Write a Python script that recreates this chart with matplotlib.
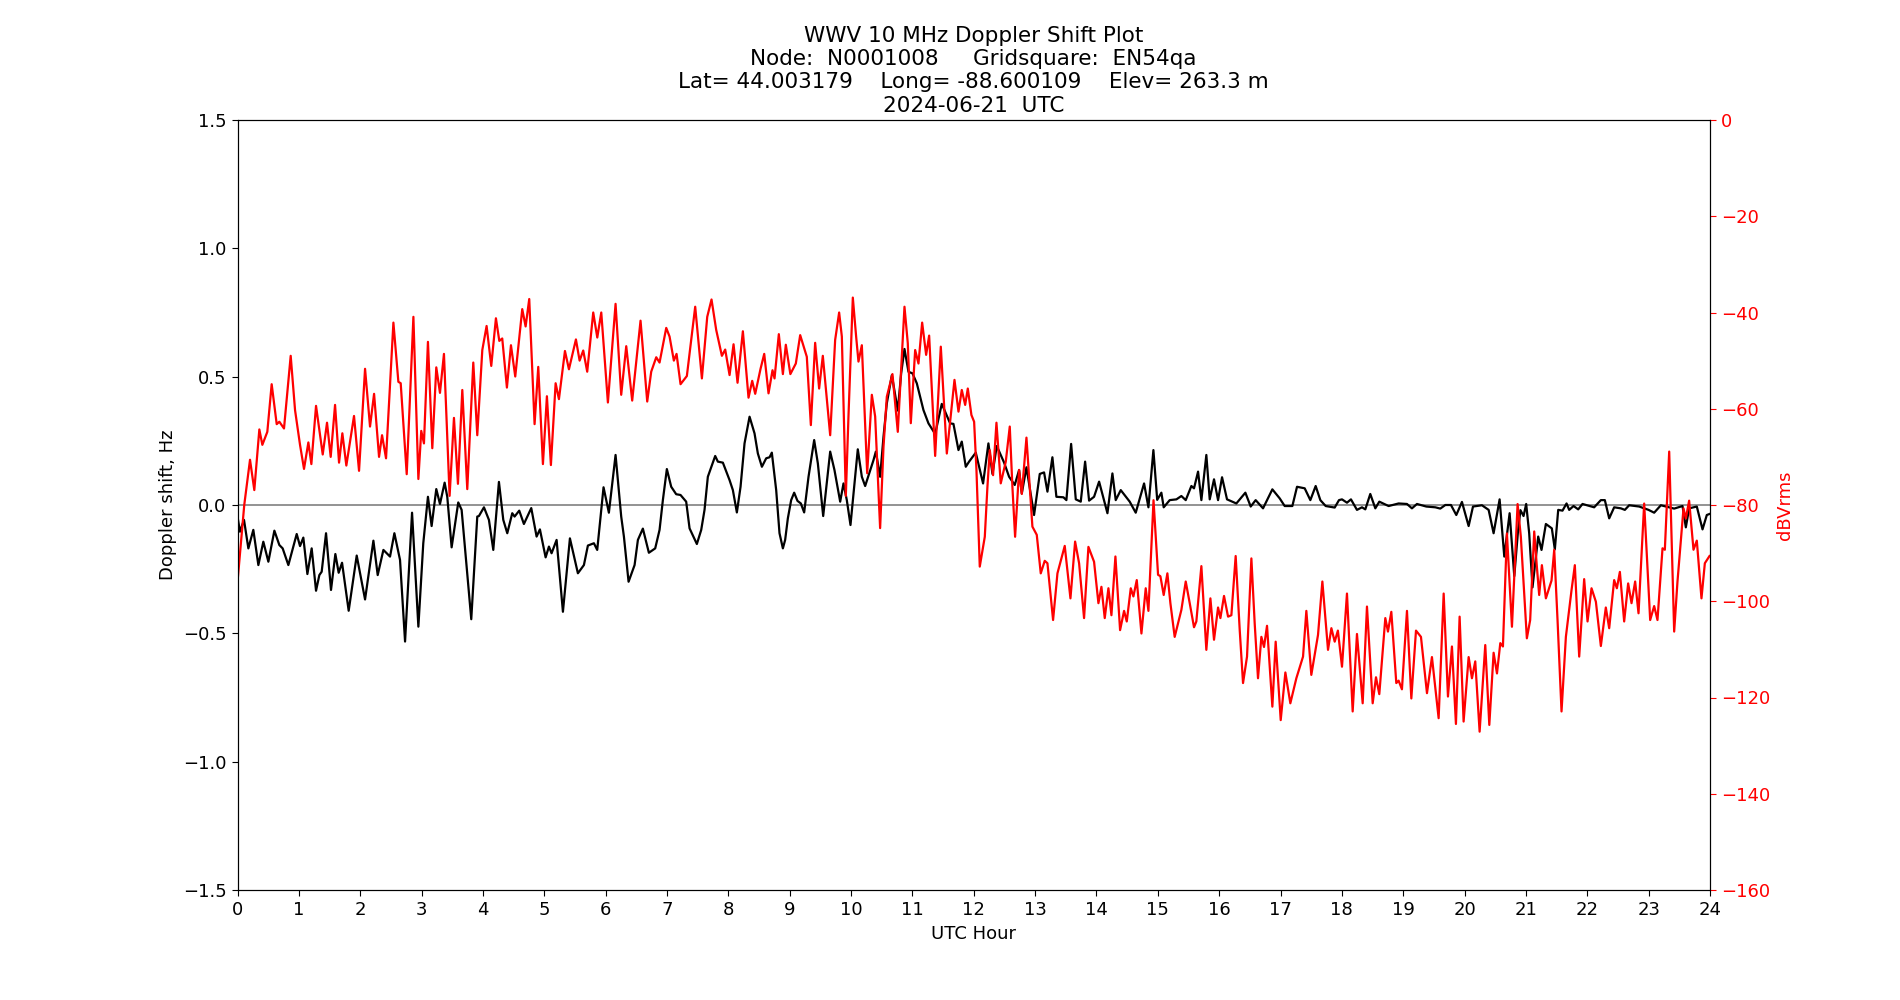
import matplotlib
matplotlib.use('Agg')
import matplotlib.pyplot as plt

# Doppler shift (black, left axis) - hour, Hz
dop_hour = [0.00, 0.04, 0.106, 0.177, 0.258, 0.34, 0.421, 0.503, 0.601, 0.682, 0.736, 0.829,
            0.965, 1.019, 1.073, 1.139, 1.209, 1.280, 1.334, 1.372, 1.443, 1.524, 1.595, 1.649,
            1.704, 1.812, 1.943, 2.079, 2.215, 2.285, 2.378, 2.486, 2.557, 2.649, 2.731, 2.845,
            2.948, 3.028, 3.104, 3.164, 3.240, 3.300, 3.376, 3.419, 3.490, 3.598, 3.653, 3.810,
            3.908, 3.935, 4.017, 4.098, 4.169, 4.261, 4.332, 4.397, 4.478, 4.516, 4.592, 4.668,
            4.788, 4.875, 4.929, 5.022, 5.076, 5.119, 5.201, 5.304, 5.418, 5.548, 5.646, 5.711,
            5.809, 5.863, 5.966, 6.053, 6.162, 6.254, 6.298, 6.374, 6.472, 6.526, 6.607, 6.705,
            6.808, 6.879, 6.933, 6.998, 7.069, 7.150, 7.221, 7.313, 7.368, 7.487, 7.558, 7.612,
            7.666, 7.786, 7.829, 7.911, 8.020, 8.074, 8.139, 8.199, 8.264, 8.346, 8.427, 8.481,
            8.547, 8.617, 8.672, 8.709, 8.780, 8.834, 8.889, 8.926, 8.970, 9.024, 9.073, 9.127,
            9.182, 9.236, 9.307, 9.399, 9.459, 9.546, 9.660, 9.730, 9.823, 9.877, 9.931, 9.991,
            10.110, 10.176, 10.230, 10.366, 10.404, 10.474, 10.529, 10.583, 10.665, 10.762, 10.817,
            10.871, 10.936, 11.001, 11.072, 11.126, 11.180, 11.262, 11.371, 11.479, 11.615, 11.669,
            11.751, 11.805, 11.870, 11.924, 12.033, 12.152, 12.239, 12.305, 12.375, 12.495, 12.576,
            12.668, 12.739, 12.783, 12.859, 12.983, 13.076, 13.146, 13.201, 13.282, 13.347, 13.462,
            13.510, 13.587, 13.663, 13.744, 13.815, 13.880, 13.961, 14.043, 14.179, 14.260, 14.314,
            14.396, 14.542, 14.640, 14.776, 14.847, 14.928, 14.990, 15.058, 15.096, 15.194, 15.303,
            15.384, 15.455, 15.547, 15.590, 15.656, 15.710, 15.791, 15.846, 15.916, 15.982, 16.047,
            16.128, 16.280, 16.427, 16.514, 16.595, 16.715, 16.867, 16.986, 17.068, 17.193, 17.269,
            17.394, 17.486, 17.573, 17.649, 17.736, 17.883, 17.953, 18.002, 18.083, 18.148, 18.246,
            18.328, 18.382, 18.463, 18.545, 18.610, 18.762, 18.925, 19.061, 19.142, 19.224, 19.376,
            19.523, 19.604, 19.686, 19.778, 19.865, 19.957, 20.066, 20.137, 20.283, 20.392, 20.473,
            20.571, 20.647, 20.734, 20.810, 20.870, 20.910, 20.961, 21.004, 21.053, 21.107, 21.200,
            21.254, 21.325, 21.422, 21.471, 21.526, 21.596, 21.662, 21.705, 21.776, 21.852, 21.922,
            22.112, 22.221, 22.286, 22.357, 22.438, 22.547, 22.612, 22.683, 22.846, 22.998, 23.090,
            23.199, 23.416, 23.552, 23.606, 23.660, 23.785, 23.878, 23.948, 23.992]
dop_hz = [-0.045, -0.104, -0.058, -0.169, -0.097, -0.234, -0.143, -0.221, -0.100, -0.156, -0.169, -0.234,
          -0.113, -0.160, -0.127, -0.269, -0.169, -0.334, -0.273, -0.260, -0.110, -0.331, -0.191, -0.264,
          -0.225, -0.412, -0.197, -0.368, -0.139, -0.273, -0.175, -0.201, -0.110, -0.214, -0.532, -0.030,
          -0.474, -0.149, 0.032, -0.082, 0.062, 0.004, 0.087, 0.032, -0.165, 0.010, -0.019, -0.445,
          -0.045, -0.043, -0.009, -0.058, -0.175, 0.090, -0.058, -0.110, -0.032, -0.045, -0.022, -0.074,
          -0.012, -0.123, -0.095, -0.204, -0.162, -0.188, -0.136, -0.416, -0.130, -0.266, -0.234, -0.158,
          -0.149, -0.175, 0.069, -0.030, 0.195, -0.045, -0.123, -0.299, -0.234, -0.136, -0.092, -0.186,
          -0.169, -0.097, 0.019, 0.140, 0.071, 0.042, 0.039, 0.013, -0.091, -0.152, -0.097, -0.019,
          0.110, 0.191, 0.169, 0.165, 0.097, 0.058, -0.029, 0.071, 0.240, 0.344, 0.279, 0.201,
          0.149, 0.182, 0.186, 0.204, 0.058, -0.110, -0.169, -0.136, -0.052, 0.019, 0.048, 0.016,
          0.006, -0.029, 0.110, 0.253, 0.162, -0.043, 0.208, 0.136, 0.013, 0.084, 0.019, -0.078,
          0.217, 0.110, 0.074, 0.175, 0.208, 0.110, 0.266, 0.396, 0.506, 0.368, 0.513,
          0.608, 0.519, 0.513, 0.474, 0.422, 0.370, 0.318, 0.277, 0.394, 0.318, 0.316,
          0.214, 0.247, 0.149, 0.169, 0.204, 0.084, 0.240, 0.121, 0.230, 0.165, 0.110,
          0.078, 0.136, 0.045, 0.147, -0.039, 0.121, 0.127, 0.052, 0.186, 0.032, 0.030,
          0.019, 0.238, 0.022, 0.013, 0.169, 0.017, 0.032, 0.091, -0.032, 0.123, 0.019,
          0.058, 0.013, -0.030, 0.084, -0.009, 0.214, 0.020, 0.048, -0.009, 0.019, 0.022,
          0.035, 0.019, 0.074, 0.065, 0.130, 0.019, 0.195, 0.022, 0.100, 0.019, 0.108,
          0.022, 0.006, 0.048, -0.006, 0.019, -0.013, 0.061, 0.026, -0.004, -0.004, 0.071,
          0.065, 0.019, 0.074, 0.019, -0.004, -0.010, 0.019, 0.022, 0.009, 0.022, -0.019,
          -0.009, -0.017, 0.043, -0.013, 0.013, -0.004, 0.006, 0.004, -0.013, 0.004, -0.006,
          -0.009, -0.014, 0.000, 0.000, -0.039, 0.012, -0.082, -0.006, -0.001, -0.019, -0.110,
          0.022, -0.201, -0.032, -0.277, -0.104, -0.020, -0.043, 0.004, -0.110, -0.321, -0.123,
          -0.175, -0.074, -0.091, -0.173, -0.019, -0.022, 0.006, -0.019, -0.004, -0.017, 0.004,
          -0.009, 0.019, 0.019, -0.052, -0.009, -0.013, -0.019, -0.001, -0.006, -0.019, -0.030,
          -0.001, -0.014, -0.004, -0.087, -0.013, -0.006, -0.095, -0.039, -0.035]

# signal level (red, right axis) - hour, dBVrms
pwr_hour = [0.000, 0.110, 0.204, 0.274, 0.356, 0.405, 0.486, 0.557, 0.639, 0.682, 0.758, 0.867,
            0.938, 1.019, 1.084, 1.155, 1.204, 1.280, 1.389, 1.459, 1.519, 1.590, 1.655, 1.709,
            1.774, 1.899, 1.981, 2.079, 2.160, 2.226, 2.307, 2.356, 2.421, 2.541, 2.622, 2.660,
            2.758, 2.867, 2.948, 2.995, 3.039, 3.104, 3.175, 3.240, 3.300, 3.365, 3.457, 3.528,
            3.593, 3.664, 3.745, 3.843, 3.908, 3.990, 4.060, 4.136, 4.212, 4.267, 4.315, 4.391,
            4.457, 4.527, 4.641, 4.696, 4.755, 4.842, 4.902, 4.978, 5.043, 5.108, 5.185, 5.239,
            5.337, 5.402, 5.516, 5.576, 5.635, 5.700, 5.798, 5.864, 5.929, 6.037, 6.162, 6.254,
            6.336, 6.433, 6.569, 6.678, 6.743, 6.825, 6.879, 6.988, 7.042, 7.112, 7.156, 7.221,
            7.324, 7.460, 7.569, 7.656, 7.726, 7.802, 7.895, 7.949, 8.020, 8.085, 8.150, 8.237,
            8.329, 8.389, 8.438, 8.525, 8.585, 8.655, 8.720, 8.753, 8.823, 8.889, 8.937, 9.011,
            9.100, 9.171, 9.279, 9.345, 9.415, 9.480, 9.540, 9.660, 9.741, 9.806, 9.850, 9.915,
            9.958, 10.029, 10.083, 10.121, 10.176, 10.263, 10.339, 10.393, 10.474, 10.529, 10.583,
            10.675, 10.762, 10.871, 10.925, 10.974, 11.045, 11.099, 11.159, 11.224, 11.273, 11.371,
            11.463, 11.561, 11.686, 11.751, 11.805, 11.860, 11.903, 11.962, 12.006, 12.044, 12.098,
            12.180, 12.223, 12.261, 12.315, 12.370, 12.440, 12.522, 12.587, 12.630, 12.674, 12.739,
            12.783, 12.859, 12.913, 12.956, 13.027, 13.092, 13.157, 13.201, 13.293, 13.364, 13.483,
            13.576, 13.652, 13.717, 13.798, 13.869, 13.961, 14.032, 14.081, 14.135, 14.195, 14.244,
            14.309, 14.385, 14.450, 14.494, 14.559, 14.602, 14.657, 14.733, 14.803, 14.847, 14.930,
            15.004, 15.042, 15.096, 15.156, 15.205, 15.275, 15.384, 15.455, 15.520, 15.590, 15.628,
            15.710, 15.791, 15.857, 15.916, 15.982, 16.020, 16.079, 16.145, 16.199, 16.269, 16.335,
            16.389, 16.454, 16.525, 16.579, 16.633, 16.688, 16.731, 16.780, 16.867, 16.921, 17.003,
            17.079, 17.160, 17.258, 17.367, 17.421, 17.502, 17.611, 17.682, 17.774, 17.829, 17.883,
            17.935, 18.002, 18.083, 18.176, 18.246, 18.339, 18.409, 18.502, 18.556, 18.610, 18.708,
            18.751, 18.806, 18.887, 18.925, 18.979, 19.061, 19.132, 19.208, 19.289, 19.387, 19.468,
            19.577, 19.659, 19.729, 19.794, 19.859, 19.919, 19.984, 20.066, 20.120, 20.174, 20.245,
            20.337, 20.403, 20.473, 20.528, 20.582, 20.625, 20.690, 20.772, 20.864, 20.917, 21.015,
            21.069, 21.135, 21.178, 21.216, 21.260, 21.325, 21.417, 21.461, 21.515, 21.580, 21.651,
            21.743, 21.797, 21.868, 21.949, 22.004, 22.069, 22.140, 22.221, 22.302, 22.357, 22.438,
            22.482, 22.531, 22.601, 22.666, 22.721, 22.780, 22.835, 22.927, 23.025, 23.090, 23.144,
            23.226, 23.264, 23.335, 23.416, 23.470, 23.568, 23.606, 23.660, 23.731, 23.785, 23.861,
            23.916, 23.992]
pwr_db = [-96.0, -80.0, -70.6, -76.9, -64.3, -67.5, -64.8, -54.9, -63.2, -62.7, -64.1, -49.0,
          -60.3, -67.5, -72.5, -67.0, -71.5, -59.4, -69.5, -62.9, -70.0, -59.2, -71.2, -65.1,
          -71.8, -61.5, -72.9, -51.7, -63.7, -56.9, -70.0, -65.5, -70.3, -42.1, -54.4, -54.7,
          -73.6, -40.9, -74.6, -64.6, -67.2, -46.1, -68.2, -51.4, -56.7, -48.6, -78.1, -61.9,
          -75.6, -56.1, -76.7, -50.4, -65.5, -47.8, -42.8, -51.1, -41.2, -45.9, -45.4, -55.6,
          -46.8, -53.3, -39.3, -42.9, -37.2, -63.2, -51.3, -71.5, -57.4, -71.7, -54.7, -58.0,
          -48.0, -51.8, -45.6, -50.0, -47.9, -52.3, -40.0, -45.2, -40.0, -58.7, -38.2, -57.1,
          -47.0, -58.3, -41.7, -58.5, -52.3, -49.3, -50.4, -43.2, -45.0, -50.0, -48.6, -54.9,
          -53.2, -38.8, -53.7, -40.9, -37.3, -43.6, -49.0, -47.7, -53.0, -46.6, -54.6, -43.9,
          -57.7, -54.2, -56.9, -51.7, -48.6, -56.8, -52.0, -53.7, -44.5, -52.8, -46.7, -52.8,
          -50.6, -44.7, -49.2, -63.4, -46.3, -55.8, -49.0, -65.5, -45.7, -40.0, -45.0, -78.1,
          -61.6, -36.9, -45.0, -50.2, -46.8, -73.4, -57.1, -61.6, -84.8, -67.9, -57.5,
          -52.8, -64.8, -38.8, -46.4, -63.0, -47.8, -50.6, -42.1, -48.8, -44.8, -69.8,
          -47.1, -69.3, -54.0, -60.6, -56.1, -59.2, -55.8, -61.3, -62.7, -72.7, -92.8,
          -86.6, -76.2, -68.6, -73.8, -62.9, -75.5, -71.0, -63.7, -76.2, -86.6, -72.7,
          -77.7, -66.0, -76.2, -84.5, -86.2, -94.2, -91.6, -92.1, -103.9, -94.2, -88.5,
          -99.4, -87.6, -92.1, -103.5, -88.7, -91.8, -100.4, -97.0, -103.5, -97.3, -102.9,
          -90.7, -106.0, -102.0, -104.2, -97.3, -99.0, -95.6, -106.7, -97.3, -102.0, -79.0,
          -94.5, -94.8, -98.7, -94.2, -100.4, -107.4, -101.8, -95.9, -100.4, -105.4, -104.2,
          -92.7, -110.1, -99.4, -108.0, -101.3, -103.5, -98.9, -103.2, -102.9, -90.6, -106.0,
          -117.0, -111.5, -91.1, -104.6, -116.0, -107.4, -109.5, -105.1, -121.9, -108.4, -124.7,
          -114.8, -121.2, -116.0, -111.5, -102.0, -115.3, -107.0, -95.9, -110.1, -105.6, -108.4,
          -106.1, -113.6, -98.4, -122.9, -106.8, -121.2, -101.1, -121.2, -115.8, -119.3, -103.5,
          -106.3, -102.2, -117.0, -116.5, -118.3, -102.0, -120.2, -106.1, -107.4, -119.1, -111.6,
          -124.3, -98.4, -119.8, -109.4, -125.5, -103.2, -125.0, -111.6, -116.0, -112.5, -127.1,
          -109.1, -125.7, -110.7, -115.0, -108.7, -109.4, -85.9, -105.3, -79.8, -86.6, -107.7,
          -103.9, -85.5, -92.8, -98.7, -92.5, -99.4, -95.7, -89.3, -103.9, -122.9, -107.4,
          -97.7, -92.5, -111.5, -95.4, -104.2, -97.3, -100.1, -109.3, -101.3, -105.6, -95.6,
          -97.3, -93.9, -104.2, -96.3, -100.4, -95.9, -102.5, -79.7, -103.9, -101.0, -103.9,
          -89.0, -89.3, -68.9, -106.3, -95.9, -80.7, -82.8, -79.1, -89.3, -87.4, -99.4,
          -92.1, -90.6]

title = ("WWV 10 MHz Doppler Shift Plot\n"
         "Node:  N0001008     Gridsquare:  EN54qa\n"
         "Lat= 44.003179    Long= -88.600109    Elev= 263.3 m\n"
         "2024-06-21  UTC")

fig, ax = plt.subplots(figsize=(19, 10), dpi=100)
ax.axhline(0, color='grey', linewidth=1.2)
ax.plot(dop_hour, dop_hz, color='black', linewidth=1.6)
ax.set_xlim(0, 24)
ax.set_ylim(-1.5, 1.5)
ax.set_xticks(range(0, 25))
ax.set_xlabel('UTC Hour', fontsize=13)
ax.set_ylabel('Doppler shift, Hz', fontsize=13)
ax.tick_params(labelsize=13, length=4.5)
ax.set_title(title, fontsize=15.5)

ax2 = ax.twinx()
ax2.plot(pwr_hour, pwr_db, color='red', linewidth=1.6)
ax2.set_ylim(-160, 0)
ax2.set_ylabel('dBVrms', color='red', fontsize=13)
ax2.tick_params(axis='y', colors='red', labelsize=13, length=4.5)
ax2.spines['right'].set_color('black')

fig.savefig('out.png', dpi=100)
